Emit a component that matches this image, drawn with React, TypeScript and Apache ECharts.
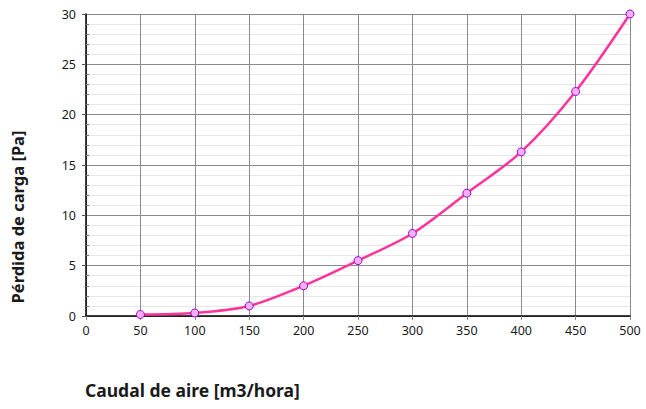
import React, { useEffect, useRef } from "react";
import * as echarts from "echarts";

const caudal = [50, 100, 150, 200, 250, 300, 350, 400, 450, 500];
const perdida = [0.15, 0.3, 1.0, 3.0, 5.5, 8.2, 12.2, 16.3, 22.3, 30.0];
const xName = "Caudal de aire [m3/hora]";
const yName = "Pérdida de carga [Pa]";

const FONT = "'Noto Sans', 'Open Sans', sans-serif";

export default function App() {
  const ref = useRef<HTMLDivElement>(null);
  useEffect(() => {
    if (!ref.current) return;
    const chart = echarts.init(ref.current, undefined, { renderer: "svg" });
    chart.setOption({
      animation: false,
      backgroundColor: "#ffffff",
      grid: { left: 86, right: 16, top: 14, bottom: 93, containLabel: false },
      xAxis: {
        type: "value",
        min: 0,
        max: 500,
        interval: 50,
        axisLine: { show: true, onZero: false, lineStyle: { color: "#000", width: 1.5 } },
        axisTick: { show: true, length: 4, lineStyle: { color: "#888" } },
        axisLabel: { color: "#1a1a1a", fontSize: 12.5, fontFamily: FONT, margin: 8 },
        splitLine: { show: true, lineStyle: { color: "#8a8a8a", width: 1 } },
      },
      yAxis: {
        type: "value",
        min: 0,
        max: 30,
        interval: 5,
        axisLine: { show: true, onZero: false, lineStyle: { color: "#000", width: 1.5 } },
        axisTick: { show: true, length: 4, lineStyle: { color: "#555" } },
        minorTick: { show: true, splitNumber: 5, length: -3, lineStyle: { color: "#777" } },
        axisLabel: { color: "#1a1a1a", fontSize: 12.5, fontFamily: FONT, margin: 10 },
        splitLine: { show: true, lineStyle: { color: "#8a8a8a", width: 1 } },
        minorSplitLine: { show: true, lineStyle: { color: "#e6e6e6", width: 1 } },
      },
      graphic: [
        {
          type: "text",
          left: 85,
          top: 381,
          style: {
            text: xName,
            font: `bold 17.5px ${FONT}`,
            fill: "#1a1a1a",
          },
        },
        {
          type: "text",
          x: 17,
          y: 217,
          rotation: Math.PI / 2,
          style: {
            text: yName,
            font: `bold 16.5px ${FONT}`,
            fill: "#1a1a1a",
            align: "center",
            verticalAlign: "middle",
          },
        },
      ],
      series: [
        {
          type: "line",
          data: caudal.map((c, i) => [c, perdida[i]]),
          smooth: 0.3,
          symbol: "circle",
          symbolSize: 8,
          lineStyle: { color: "#ff3399", width: 2.5 },
          itemStyle: { color: "#f3b0ff", borderColor: "#a000d0", borderWidth: 1 },
          z: 5,
        },
      ],
    });
    return () => chart.dispose();
  }, []);
  return (
    <div
      ref={ref}
      style={{ position: "absolute", left: 0, top: 0, width: 646, height: 409 }}
    />
  );
}
